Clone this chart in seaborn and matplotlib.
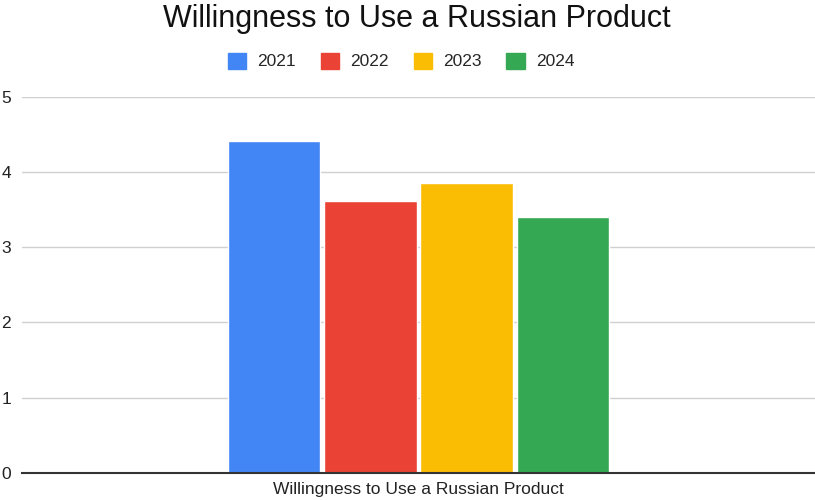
import matplotlib
matplotlib.use("Agg")
import matplotlib.pyplot as plt
import seaborn as sns
import pandas as pd
from matplotlib.patches import Patch

category = ["Willingness to Use a Russian Product"]
years = ["2021", "2022", "2023", "2024"]
values = [4.41, 3.62, 3.86, 3.40]
colors = ["#4285F4", "#EA4335", "#FBBC04", "#34A853"]

df = pd.DataFrame({"cat": category * len(years), "year": years, "value": values})

sns.set_theme(style="white")
plt.rcParams["font.family"] = ["Liberation Sans", "DejaVu Sans"]

fig = plt.figure(figsize=(8.15, 5.0), dpi=100)
ax = fig.add_axes([0.027, 0.0546, 0.973, 0.7514])

sns.barplot(data=df, x="cat", y="value", hue="year", palette=colors,
            width=0.485, gap=0.04, ax=ax, legend=False, saturation=1)

ax.set_xlim(-0.5, 0.5)
ax.set_ylim(0, 5)
ax.set_yticks([0, 1, 2, 3, 4, 5])
ax.set_yticklabels(["0", "1", "2", "3", "4", "5"], fontsize=12.5, color="#222222")
ax.tick_params(axis="y", length=0, pad=8)
ax.tick_params(axis="x", length=0, pad=7)
ax.set_xticks([0])
ax.set_xticklabels(category, fontsize=12.5, color="#222222")
ax.set_xlabel("")
ax.set_ylabel("")
ax.grid(axis="y", color="#d0d0d0", linewidth=1)
ax.set_axisbelow(True)
for s in ["top", "right", "left"]:
    ax.spines[s].set_visible(False)
ax.spines["bottom"].set_color("#333333")
ax.spines["bottom"].set_linewidth(1.5)

fig.text(0.512, 0.946, "Willingness to Use a Russian Product", ha="center", va="baseline",
         fontsize=22, color="#111111")

handles = [Patch(facecolor=c, edgecolor=c) for c in colors]
fig.legend(handles, years, loc="center", bbox_to_anchor=(0.492, 0.878), ncol=4,
           frameon=False, fontsize=12.5, handlelength=1.05, handleheight=1.05,
           columnspacing=1.45, handletextpad=0.63)

fig.savefig("out.png", dpi=100)
